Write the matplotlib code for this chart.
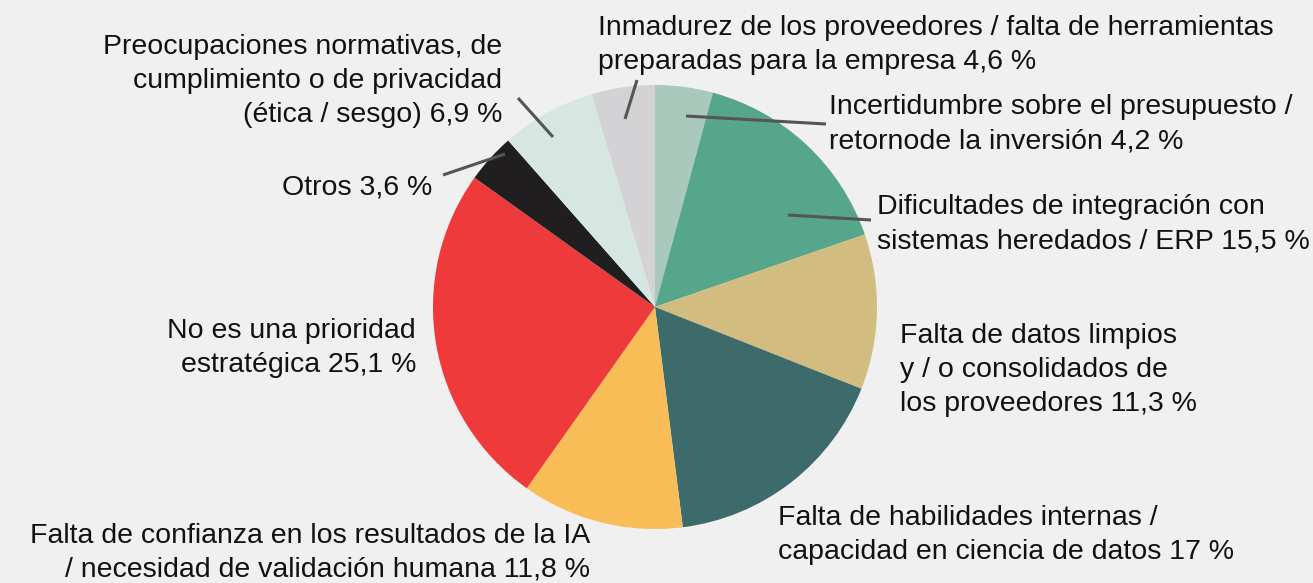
import matplotlib
matplotlib.use("Agg")
import matplotlib.pyplot as plt

labels = [
    "Incertidumbre sobre el presupuesto /\nretornode la inversión 4,2 %",
    "Dificultades de integración con\nsistemas heredados / ERP 15,5 %",
    "Falta de datos limpios\ny / o consolidados de\nlos proveedores 11,3 %",
    "Falta de habilidades internas /\ncapacidad en ciencia de datos 17 %",
    "Falta de confianza en los resultados de la IA\n/ necesidad de validación humana 11,8 %",
    "No es una prioridad\nestratégica 25,1 %",
    "Otros 3,6 %",
    "Preocupaciones normativas, de\ncumplimiento o de privacidad\n(ética / sesgo) 6,9 %",
    "Inmadurez de los proveedores / falta de herramientas\npreparadas para la empresa 4,6 %",
]
values = [4.2, 15.5, 11.3, 17.0, 11.8, 25.1, 3.6, 6.9, 4.6]
colors = ["#a9c9bd", "#56a68c", "#d3bc80", "#3d6b6b", "#f9bd58",
          "#ee3a3a", "#201e1f", "#d6e7e2", "#d3d3d5"]

W, H = 1313, 583
fig = plt.figure(figsize=(W / 100, H / 100), dpi=100)
fig.patch.set_facecolor("#f0f0f0")
ax = fig.add_axes([0, 0, 1, 1])
ax.set_facecolor("#f0f0f0")

def Y(y):
    return H - y

ax.pie(values, colors=colors, startangle=90, counterclock=False,
       center=(655, Y(307)), radius=222, wedgeprops=dict(linewidth=0))
ax.set_xlim(0, W)
ax.set_ylim(0, H)
ax.set_aspect("equal")
ax.axis("off")

fs = 20.5
# (x, y_center_of_block, ha)
text_pos = [
    (829, 124, "left"),
    (877, 224, "left"),
    (900, 370, "left"),
    (778, 535, "left"),
    (590, 553, "right"),
    (416, 348, "right"),
    (432, 187, "right"),
    (502, 81, "right"),
    (598, 45, "left"),
]
for lab, (x, y, ha) in zip(labels, text_pos):
    ax.text(x, Y(y), lab, ha=ha, va="center", fontsize=fs, color="#111111",
            linespacing=1.4, family=["Liberation Sans", "DejaVu Sans"])

leaders = [
    ((686, 116), (826, 124)),
    ((788, 215), (871, 220)),
    ((443, 175), (505, 154)),
    ((518, 98), (553, 137)),
    ((637, 80), (625, 119)),
]
for (x0, y0), (x1, y1) in leaders:
    ax.plot([x0, x1], [Y(y0), Y(y1)], color="#555555", lw=2.2,
            solid_capstyle="butt")

fig.savefig("out.png", dpi=100, facecolor=fig.get_facecolor())
